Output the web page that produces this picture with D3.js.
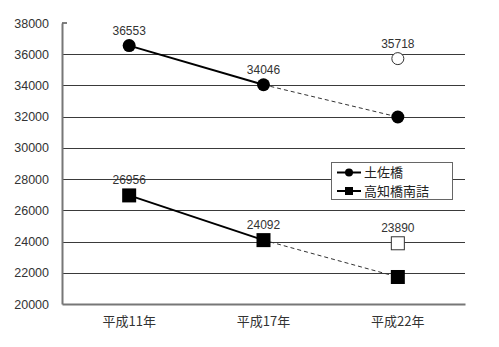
<!DOCTYPE html>
<html>
<head>
<meta charset="utf-8">
<script src="https://cdn.jsdelivr.net/npm/d3@7"></script>
<style>
  body { margin: 0; background: #fff; }
  svg { display: block; }
</style>
</head>
<body>
<div id="chart"></div>
<script>
// data
let years = ["平成11年", "平成17年", "平成22年"];
let seriesNames = ["土佐橋", "高知橋南詰"];
let tosabashi = [36553, 34046, 31980];
let kochibashi = [26956, 24092, 21730];
// hollow markers at 平成22年
let tosabashiOpen = 35718;
let kochibashiOpen = 23890;
let yTicks = [20000, 22000, 24000, 26000, 28000, 30000, 32000, 34000, 36000, 38000];

function drawChart() {
	let width = 499, height = 347;
	let margin = { top: 23, right: 34, bottom: 43, left: 62 };
	let w = width - margin.left - margin.right;
	let h = height - margin.top - margin.bottom;
	let numFont = "'Liberation Sans', Arial, sans-serif";
	let jpFont = "'Noto Sans CJK JP', sans-serif";

	let svg = d3.select("#chart")
		.append("svg")
		.attr("width", width)
		.attr("height", height);

	let g = svg.append("g")
		.attr("transform", "translate(" + margin.left + "," + margin.top + ")");

	let x = d3.scaleBand().domain(years).range([0, w]);
	let y = d3.scaleLinear().domain([20000, 38000]).range([h, 0]);
	let cx = function (d) { return x(d) + x.bandwidth() / 2; };

	// gridlines
	g.selectAll(".grid")
		.data(yTicks.filter(function (t) { return t > 20000 && t < 38000; }))
		.enter().append("line")
		.attr("x1", 0).attr("x2", w)
		.attr("y1", function (d) { return Math.round(y(d)) + 0.5; })
		.attr("y2", function (d) { return Math.round(y(d)) + 0.5; })
		.attr("stroke", "#3a3a3a")
		.attr("stroke-width", 1.2);

	// y axis
	let yAxis = g.append("g")
		.call(d3.axisLeft(y).tickValues(yTicks).tickSize(0).tickPadding(13).tickFormat(d3.format("d")));
	yAxis.select(".domain").attr("stroke", "#777").attr("stroke-width", 2);
	yAxis.selectAll("text")
		.style("font-family", numFont)
		.style("font-size", "12.5px")
		.attr("fill", "#333");
	g.append("line")
		.attr("x1", 0).attr("x2", 5)
		.attr("y1", y(38000)).attr("y2", y(38000))
		.attr("stroke", "#555").attr("stroke-width", 1.5);

	// x axis
	let xAxis = g.append("g")
		.attr("transform", "translate(0," + h + ")")
		.call(d3.axisBottom(x).tickSize(0).tickPadding(13));
	xAxis.select(".domain").attr("stroke", "#777").attr("stroke-width", 2);
	xAxis.selectAll("text")
		.style("font-family", jpFont)
		.style("font-size", "13px")
		.attr("fill", "#333");

	let series = [
		{ name: seriesNames[0], values: tosabashi, open: tosabashiOpen, shape: "circle" },
		{ name: seriesNames[1], values: kochibashi, open: kochibashiOpen, shape: "square" }
	];

	series.forEach(function (s) {
		let pts = years.map(function (yr, i) { return { year: yr, value: s.values[i] }; });

		// solid part
		g.append("path")
			.datum(pts.slice(0, 2))
			.attr("fill", "none")
			.attr("stroke", "#000")
			.attr("stroke-width", 2)
			.attr("d", d3.line().x(function (d) { return cx(d.year); }).y(function (d) { return y(d.value); }));

		// dashed projection
		g.append("path")
			.datum(pts.slice(1, 3))
			.attr("fill", "none")
			.attr("stroke", "#333")
			.attr("stroke-width", 1)
			.attr("stroke-dasharray", "4,3")
			.attr("d", d3.line().x(function (d) { return cx(d.year); }).y(function (d) { return y(d.value); }));

		// markers, filled ones and the hollow one at 平成22年
		if (s.shape === "circle") {
			g.selectAll(null).data(pts).enter().append("circle")
				.attr("cx", function (d) { return cx(d.year); })
				.attr("cy", function (d) { return y(d.value); })
				.attr("r", 6.5)
				.attr("fill", "#000");
			g.append("circle")
				.attr("cx", cx(years[2]))
				.attr("cy", y(s.open))
				.attr("r", 6)
				.attr("fill", "#fff")
				.attr("stroke", "#333")
				.attr("stroke-width", 1);
		} else {
			g.selectAll(null).data(pts).enter().append("rect")
				.attr("x", function (d) { return cx(d.year) - 7; })
				.attr("y", function (d) { return y(d.value) - 7; })
				.attr("width", 14).attr("height", 14)
				.attr("fill", "#000");
			g.append("rect")
				.attr("x", cx(years[2]) - 6.5)
				.attr("y", y(s.open) - 6.5)
				.attr("width", 13).attr("height", 13)
				.attr("fill", "#fff")
				.attr("stroke", "#333")
				.attr("stroke-width", 1);
		}

		// value labels
		let labels = pts.slice(0, 2).concat([{ year: years[2], value: s.open }]);
		g.selectAll(null).data(labels).enter().append("text")
			.attr("x", function (d) { return cx(d.year); })
			.attr("y", function (d) { return y(d.value) - 11; })
			.attr("text-anchor", "middle")
			.style("font-family", numFont)
			.style("font-size", "12px")
			.attr("fill", "#333")
			.text(function (d) { return d.value; });
	});

	// legend
	let legend = svg.append("g").attr("transform", "translate(331,162)");
	legend.append("rect")
		.attr("x", 0.5).attr("y", 0.5)
		.attr("width", 121).attr("height", 37)
		.attr("fill", "#fff")
		.attr("stroke", "#666")
		.attr("stroke-width", 1);
	series.forEach(function (s, i) {
		let ly = 10.5 + i * 18.5;
		legend.append("line")
			.attr("x1", 6).attr("x2", 30)
			.attr("y1", ly).attr("y2", ly)
			.attr("stroke", "#000").attr("stroke-width", 2);
		if (s.shape === "circle") {
			legend.append("circle").attr("cx", 18).attr("cy", ly).attr("r", 4).attr("fill", "#000");
		} else {
			legend.append("rect").attr("x", 14).attr("y", ly - 4).attr("width", 8).attr("height", 8).attr("fill", "#000");
		}
		legend.append("text")
			.attr("x", 33)
			.attr("y", ly)
			.attr("dy", "0.36em")
			.style("font-family", jpFont)
			.style("font-size", "13px")
			.attr("fill", "#222")
			.text(s.name);
	});
}

drawChart();
</script>
</body>
</html>
